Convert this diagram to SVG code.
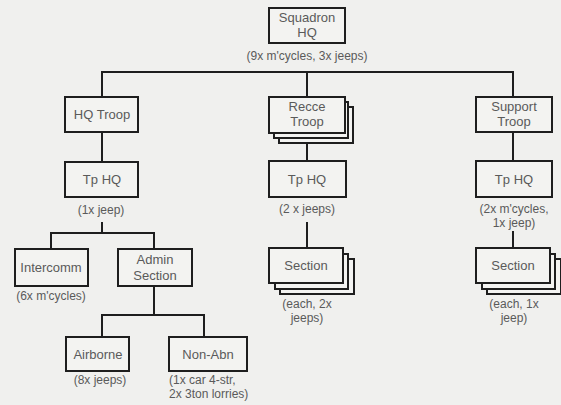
<svg xmlns="http://www.w3.org/2000/svg" width="561" height="405" viewBox="0 0 561 405">
<style>
.bg{fill:#f0f0ee}
.box{fill:#f3f3f1;stroke:#1e1e1e;stroke-width:2}
.t{font-family:"Liberation Sans",Arial,sans-serif;font-size:13px;fill:#5a5a5a;text-anchor:middle}
.c{font-family:"Liberation Sans",Arial,sans-serif;font-size:12px;fill:#5a5a5a;text-anchor:middle}
.l{text-anchor:start}
.ln{stroke:#1e1e1e;stroke-width:2;fill:none}
</style>
<rect class="bg" x="0" y="0" width="561" height="405"/>
<g id="connectors">
<path class="ln" d="M102 72H513M102 71V97M307 72V97M513 71V97"/>
<path class="ln" d="M102 132V162M307 142V161M513 132V161"/>
<path class="ln" d="M102 222V233M51 233H154M51 232V249M154 232V249"/>
<path class="ln" d="M154 286V315M102 315H204M102 314V337M204 314V337"/>
<path class="ln" d="M307 222V248M513 231V248"/>
</g>
<g id="squadron-hq">
<rect class="box" x="269" y="8" width="76" height="35"/>
<text class="t" x="307" y="22">Squadron</text>
<text class="t" x="307" y="37">HQ</text>
<text class="c" x="307" y="60">(9x m'cycles, 3x jeeps)</text>
</g>
<g id="hq-troop">
<rect class="box" x="65" y="97" width="73" height="35"/>
<text class="t" x="102" y="119">HQ Troop</text>
</g>
<g id="recce-troop">
<rect class="box" x="279" y="107" width="74" height="36"/>
<rect class="box" x="274" y="102" width="74" height="36"/>
<rect class="box" x="269" y="97" width="76" height="36"/>
<text class="t" x="307" y="111">Recce</text>
<text class="t" x="307" y="126">Troop</text>
</g>
<g id="support-troop">
<rect class="box" x="476" y="97" width="76" height="35"/>
<text class="t" x="514" y="111">Support</text>
<text class="t" x="514" y="126">Troop</text>
</g>
<g id="hq-tp-hq">
<rect class="box" x="65" y="162" width="73" height="35"/>
<text class="t" x="102" y="184">Tp HQ</text>
<text class="c" x="101" y="214">(1x jeep)</text>
</g>
<g id="recce-tp-hq">
<rect class="box" x="269" y="161" width="77" height="36"/>
<text class="t" x="307" y="184">Tp HQ</text>
<text class="c" x="307" y="213">(2 x jeeps)</text>
</g>
<g id="support-tp-hq">
<rect class="box" x="476" y="161" width="76" height="36"/>
<text class="t" x="514" y="184">Tp HQ</text>
<text class="c" x="514" y="213">(2x m'cycles,</text>
<text class="c" x="514" y="227">1x jeep)</text>
</g>
<g id="intercomm">
<rect class="box" x="15" y="249" width="73" height="37"/>
<text class="t" x="51" y="272">Intercomm</text>
<text class="c" x="51" y="300">(6x m'cycles)</text>
</g>
<g id="admin-section">
<rect class="box" x="118" y="249" width="74" height="37"/>
<text class="t" x="155" y="264">Admin</text>
<text class="t" x="155" y="280">Section</text>
</g>
<g id="recce-section">
<rect class="box" x="280" y="259" width="74" height="35"/>
<rect class="box" x="275" y="254" width="73" height="35"/>
<rect class="box" x="269" y="248" width="74" height="35"/>
<text class="t" x="306" y="270">Section</text>
<text class="c" x="307" y="308">(each, 2x</text>
<text class="c" x="307" y="322">jeeps)</text>
</g>
<g id="support-section">
<rect class="box" x="487" y="259" width="74" height="35"/>
<rect class="box" x="482" y="254" width="73" height="35"/>
<rect class="box" x="476" y="248" width="74" height="35"/>
<text class="t" x="513" y="270">Section</text>
<text class="c" x="514" y="308">(each, 1x</text>
<text class="c" x="514" y="322">jeep)</text>
</g>
<g id="airborne">
<rect class="box" x="66" y="337" width="63" height="34"/>
<text class="t" x="98" y="359">Airborne</text>
<text class="c" x="100" y="384">(8x jeeps)</text>
</g>
<g id="non-abn">
<rect class="box" x="169" y="337" width="78" height="34"/>
<text class="t" x="208" y="359">Non-Abn</text>
<text class="c l" x="169" y="384">(1x car 4-str,</text>
<text class="c l" x="169" y="398">2x 3ton lorries)</text>
</g>
</svg>
